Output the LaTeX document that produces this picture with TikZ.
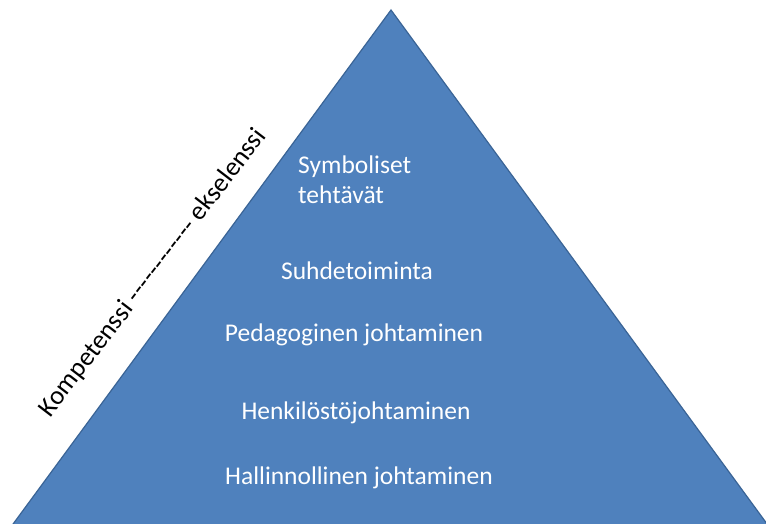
\documentclass[tikz,border=0pt]{standalone}
\usepackage{fontspec}
\setmainfont{Carlito}
\usetikzlibrary{positioning}

\definecolor{pyrfill}{HTML}{4F81BD}
\definecolor{pyredge}{HTML}{3A6496}

\begin{document}
\begin{tikzpicture}[x=1pt, y=-1pt,
    level/.style={text=white, font=\fontsize{25.5}{30}\selectfont, align=left,
      inner sep=0pt},
    side/.style={text=black, font=\fontsize{26.5}{30}\selectfont, inner sep=0pt,
      rotate=52.5},
  ]
  \useasboundingbox (0,0) rectangle (766,524);
  \clip (0,0) rectangle (766,524);

  % --- pyramid ---
  \fill[pyrfill, draw=pyredge, line width=1.2pt]
    (391,10) -- (-20,569) -- (800,569) -- cycle;

  % --- levels (top to bottom) ---
  \node[level, anchor=north west] (symb) at (298,156) {Symboliset\\tehtävät};
  \node[level] (suhde) at (357,271) {Suhdetoiminta};
  \node[level] (peda) at (354,335) {Pedagoginen johtaminen};
  \node[level] (henk) at (356,413) {Henkilöstöjohtaminen};
  \node[level] (hall) at (359,478) {Hallinnollinen johtaminen};

  % --- scale along the left edge ---
  \node[side] (scale) at (153,273)
    {Kompetenssi -{}-{}-{}-{}-{}-{}-{}-{}-{}-{}-{}- ekselenssi};
\end{tikzpicture}
\end{document}
